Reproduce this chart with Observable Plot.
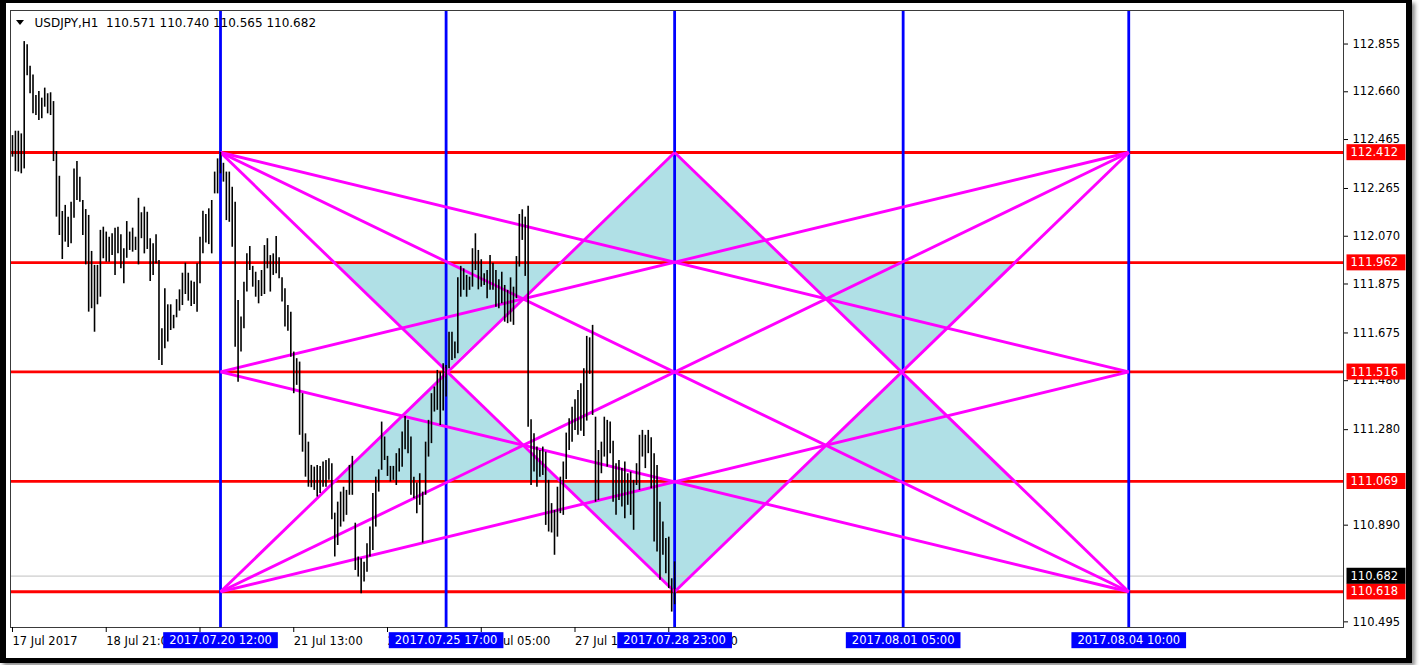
<!DOCTYPE html>
<html>
<head>
<meta charset="utf-8">
<script src="https://cdn.jsdelivr.net/npm/d3@7"></script>
<script src="https://cdn.jsdelivr.net/npm/@observablehq/plot@0.6"></script>
<style>
html, body { margin: 0; padding: 0; background: #fff; }
#wrap { position: relative; width: 1419px; height: 665px; overflow: hidden; background: #fff; }
#chart svg { display: block; }
#frame { position: absolute; left: 0; top: 0; width: 1400px; height: 655px; border-style: solid; border-color: #000;
  border-width: 3px 6px 5px 6px; box-shadow: 3px 3px 4px rgba(0,0,0,0.45); pointer-events: none; }
#tri { position: absolute; left: 16px; top: 20px; width: 0; height: 0;
  border-left: 4.5px solid transparent; border-right: 4.5px solid transparent; border-top: 5px solid #000; }
</style>
</head>
<body>
<div id="wrap"><div id="chart"></div><div id="frame"></div><div id="tri"></div></div>
<script>
// ---- data (USDJPY H1, bar index 0 = 17 Jul 2017 13:00) ----
const highs = [
112.481,112.499,112.499,112.488,112.865,112.852,112.764,112.729,112.645,112.661,
112.634,112.675,112.652,112.656,112.620,112.416,112.315,112.171,112.196,112.148,
112.209,112.345,112.375,112.311,112.216,112.179,112.155,112.008,111.951,111.951,
112.094,112.107,112.087,112.066,112.080,112.103,112.107,112.076,112.019,112.130,
112.087,112.103,112.066,112.225,112.166,112.189,112.168,112.060,112.039,112.076,
111.971,111.692,111.856,111.790,111.790,111.747,111.811,111.851,111.919,111.960,
111.919,111.887,111.882,111.958,112.066,112.172,112.159,112.182,112.216,112.332,
112.386,112.412,112.368,112.332,112.332,112.270,112.209,111.808,111.740,111.882,
111.998,112.028,111.947,111.923,111.889,111.930,112.032,112.060,111.991,111.998,
112.069,111.982,111.900,111.856,111.787,111.760,111.597,111.570,111.556,111.427,
111.263,111.229,111.134,111.127,111.134,111.130,111.148,111.154,111.161,111.141,
110.939,110.984,111.025,111.045,111.032,111.134,111.171,110.898,110.760,110.753,
110.739,110.814,110.882,111.019,111.086,111.116,111.311,111.250,111.171,111.130,
111.130,111.182,111.202,111.270,111.334,111.318,111.250,111.086,111.062,111.100,
111.025,111.229,111.318,111.427,111.454,111.522,111.515,111.549,111.542,111.678,
111.678,111.638,111.900,111.947,111.937,111.910,111.903,112.019,112.080,112.012,
111.974,111.917,111.930,111.991,111.960,111.930,111.892,111.923,111.869,111.849,
111.900,111.862,111.987,112.159,112.178,112.148,112.192,111.321,111.263,111.209,
111.195,111.209,111.188,111.073,110.978,110.950,111.045,111.086,111.148,111.266,
111.325,111.372,111.402,111.440,111.468,111.529,111.661,111.655,111.706,111.331,
111.195,111.229,111.331,111.318,111.311,111.233,111.141,111.154,111.121,111.148,
111.100,111.107,111.073,111.141,111.257,111.277,111.257,111.277,111.247,111.182,
111.134,110.984,110.903,110.835,110.841,110.671,110.740
];
const lows = [
112.393,112.334,112.332,112.325,112.345,112.726,112.652,112.570,112.563,112.543,
112.550,112.597,112.570,112.563,112.375,112.148,112.073,111.975,112.046,112.024,
112.039,112.144,112.216,112.209,112.073,111.953,111.760,111.774,111.678,111.790,
111.821,111.978,111.964,111.964,111.991,111.910,111.998,111.937,111.876,111.980,
112.012,112.005,112.012,111.953,112.060,111.998,112.016,111.885,111.910,111.958,
111.563,111.542,111.611,111.638,111.685,111.692,111.737,111.764,111.787,111.832,
111.805,111.783,111.791,111.760,111.876,111.998,112.042,112.036,111.998,112.243,
112.243,112.325,112.291,112.134,112.127,112.025,111.617,111.474,111.597,111.692,
111.842,111.930,111.862,111.821,111.794,111.824,111.832,111.937,111.842,111.910,
111.917,111.896,111.801,111.699,111.682,111.576,111.427,111.461,111.257,111.188,
111.086,111.045,111.043,111.032,111.005,111.019,111.045,111.045,111.073,110.912,
110.760,110.807,110.882,110.903,110.930,111.012,111.012,110.705,110.678,110.610,
110.658,110.698,110.760,110.787,110.882,111.025,111.114,111.154,111.089,111.066,
111.073,111.052,111.107,111.127,111.198,111.182,111.012,110.998,110.937,110.971,
110.817,111.012,111.168,111.223,111.352,111.359,111.297,111.356,111.413,111.529,
111.563,111.570,111.590,111.821,111.849,111.821,111.849,111.862,111.930,111.851,
111.862,111.869,111.815,111.849,111.849,111.780,111.774,111.794,111.719,111.713,
111.719,111.706,111.815,111.944,112.053,111.906,111.290,111.052,111.107,111.045,
111.086,111.093,110.889,110.862,110.858,110.767,110.841,110.937,110.930,111.076,
111.195,111.229,111.277,111.257,111.274,111.252,111.315,111.506,111.338,110.984,
110.991,111.100,111.168,111.127,111.182,110.984,110.930,110.991,110.964,110.916,
110.971,110.930,110.869,111.052,111.032,111.168,111.121,111.182,111.039,110.821,
110.780,110.665,110.767,110.692,110.631,110.535,110.565
];
const levels = [112.412, 111.962, 111.516, 111.069, 110.618];
const levelLabels = ["112.412", "111.962", "111.516", "111.069", "110.618"];
const currentPrice = 110.682;
const currentLabel = "110.682";
const vIdx = [71, 148, 226, 304, 381];
const vLabels = ["2017.07.20 12:00", "2017.07.25 17:00", "2017.07.28 23:00", "2017.08.01 05:00", "2017.08.04 10:00"];
const xTickIdx = [0, 32, 64, 96, 128, 160, 192, 224];
const xTickLabels = ["17 Jul 2017", "18 Jul 21:00", "20 Jul 05:00", "21 Jul 13:00", "24 Jul 21:00", "26 Jul 05:00", "27 Jul 13:00", "28 Jul 21:00"];
const yTicks = [112.855, 112.660, 112.465, 112.265, 112.070, 111.875, 111.675, 111.480, 111.280, 110.890, 110.495];
const headerText = "USDJPY,H1\u00a0\u00a0110.571 110.740 110.565 110.682";
// grid lines: [[column, level], [column, level]]
const gannLines = [
  [[0,0],[2,4]], [[0,0],[4,4]], [[0,0],[4,2]],
  [[0,4],[2,0]], [[0,4],[4,0]], [[0,4],[4,2]],
  [[0,2],[4,0]], [[0,2],[4,4]],
  [[2,0],[4,4]], [[2,4],[4,0]]
];
// shaded triangles: apex grid point, base level, two bounding lines
const triangles = [
  {apex: [2,0], base: 1, sides: [3, 8]},
  {apex: [1,2], base: 1, sides: [0, 3]},
  {apex: [1,2], base: 3, sides: [0, 3]},
  {apex: [2,4], base: 3, sides: [0, 9]},
  {apex: [3,2], base: 1, sides: [8, 9]},
  {apex: [3,2], base: 3, sides: [8, 9]}
];

// ---- derived tables ----
const bars = highs.map((h, i) => ({i, high: h, low: lows[i]}));
const segs = gannLines.map(([[c1, r1], [c2, r2]]) => ({x1: vIdx[c1], y1: levels[r1], x2: vIdx[c2], y2: levels[r2]}));
function xAt(seg, lvl) { const t = (lvl - seg.y1) / (seg.y2 - seg.y1); return seg.x1 + t * (seg.x2 - seg.x1); }
const triPts = [];
triangles.forEach((T, k) => {
  const base = levels[T.base];
  const ax = vIdx[T.apex[0]], ay = levels[T.apex[1]];
  const xs = T.sides.map(s => xAt(segs[s], base)).sort((a, b) => a - b);
  triPts.push({t: k, x: xs[0], y1: base, y2: base});
  triPts.push({t: k, x: ax, y1: base, y2: ay});
  triPts.push({t: k, x: xs[1], y1: base, y2: base});
});

const FONT = "DejaVu Sans";
const chart = Plot.plot({
  width: 1419, height: 665,
  marginLeft: 10, marginRight: 76, marginTop: 10, marginBottom: 38,
  style: {fontFamily: FONT, fontSize: "11.5px", color: "#000", background: "transparent", overflow: "visible"},
  x: {domain: [-0.68, 454.3], axis: null},
  y: {domain: [110.472, 112.992], axis: null},
  marks: [
    Plot.areaY(triPts, {x: "x", y1: "y1", y2: "y2", z: "t", fill: "#b0e0e6", curve: "linear"}),
    Plot.ruleY([currentPrice], {stroke: "#c0c0c0", strokeWidth: 1}),
    Plot.ruleY(levels, {stroke: "#ff0000", strokeWidth: 2.8}),
    Plot.ruleX(vIdx, {stroke: "#0000ff", strokeWidth: 2.8}),
    Plot.link(segs, {x1: "x1", y1: "y1", x2: "x2", y2: "y2", stroke: "#ff00ff", strokeWidth: 2.9}),
    Plot.ruleX(bars, {x: "i", y1: "low", y2: "high", stroke: "#000", strokeWidth: 1.6}),
    Plot.frame({stroke: "#3a3a3a", strokeWidth: 1}),
    Plot.axisY(yTicks, {anchor: "right", tickSize: 4, tickPadding: 5, tickFormat: d => d.toFixed(3), fontSize: 11.5, fill: "#000", stroke: "#000"}),
    Plot.axisX(xTickIdx, {anchor: "bottom", tickSize: 5, tickPadding: 4, textAnchor: "start", dx: 0,
      tickFormat: d => xTickLabels[xTickIdx.indexOf(d)], fontSize: 11.5, fill: "#000", stroke: "#000"}),
    Plot.text(levels, {y: d => d, text: (d, i) => levelLabels[i], frameAnchor: "right", dx: 7, textAnchor: "start", lineAnchor: "middle", fill: "#fff", fontSize: 11.5}),
    Plot.text([currentPrice], {y: d => d, text: () => currentLabel, frameAnchor: "right", dx: 7, textAnchor: "start", lineAnchor: "middle", fill: "#fff", fontSize: 11.5}),
    Plot.text(vIdx, {x: d => d, text: (d, i) => vLabels[i], frameAnchor: "bottom", dy: 13, lineAnchor: "middle", fill: "#fff", fontSize: 11.5}),
    Plot.text([headerText], {text: d => d, frameAnchor: "top-left", dx: 24, dy: 12.5, textAnchor: "start", lineAnchor: "middle", fill: "#000", fontSize: 12})
  ]
});
document.getElementById("chart").append(chart);

// label boxes behind price / time tags
const red = new Set(levelLabels), dates = new Set(vLabels);
d3.select(chart).selectAll("text").each(function () {
  const t = this.textContent;
  let fill = null, kind = null;
  if (red.has(t)) { fill = "#ff0000"; kind = "p"; }
  else if (t === currentLabel) { fill = "#000"; kind = "p"; }
  else if (dates.has(t)) { fill = "#0000ff"; kind = "d"; }
  if (!fill) return;
  const b = this.getBBox();
  const r = document.createElementNS("http://www.w3.org/2000/svg", "rect");
  const cy = b.y + b.height / 2;
  if (kind === "p") { r.setAttribute("x", b.x - 4); r.setAttribute("width", 59); }
  else { r.setAttribute("x", b.x - 6); r.setAttribute("width", b.width + 12); }
  r.setAttribute("y", cy - 8); r.setAttribute("height", 16);
  r.setAttribute("fill", fill);
  const tr = this.getAttribute("transform"); if (tr) r.setAttribute("transform", tr);
  this.parentNode.insertBefore(r, this);
});
</script>
</body>
</html>
